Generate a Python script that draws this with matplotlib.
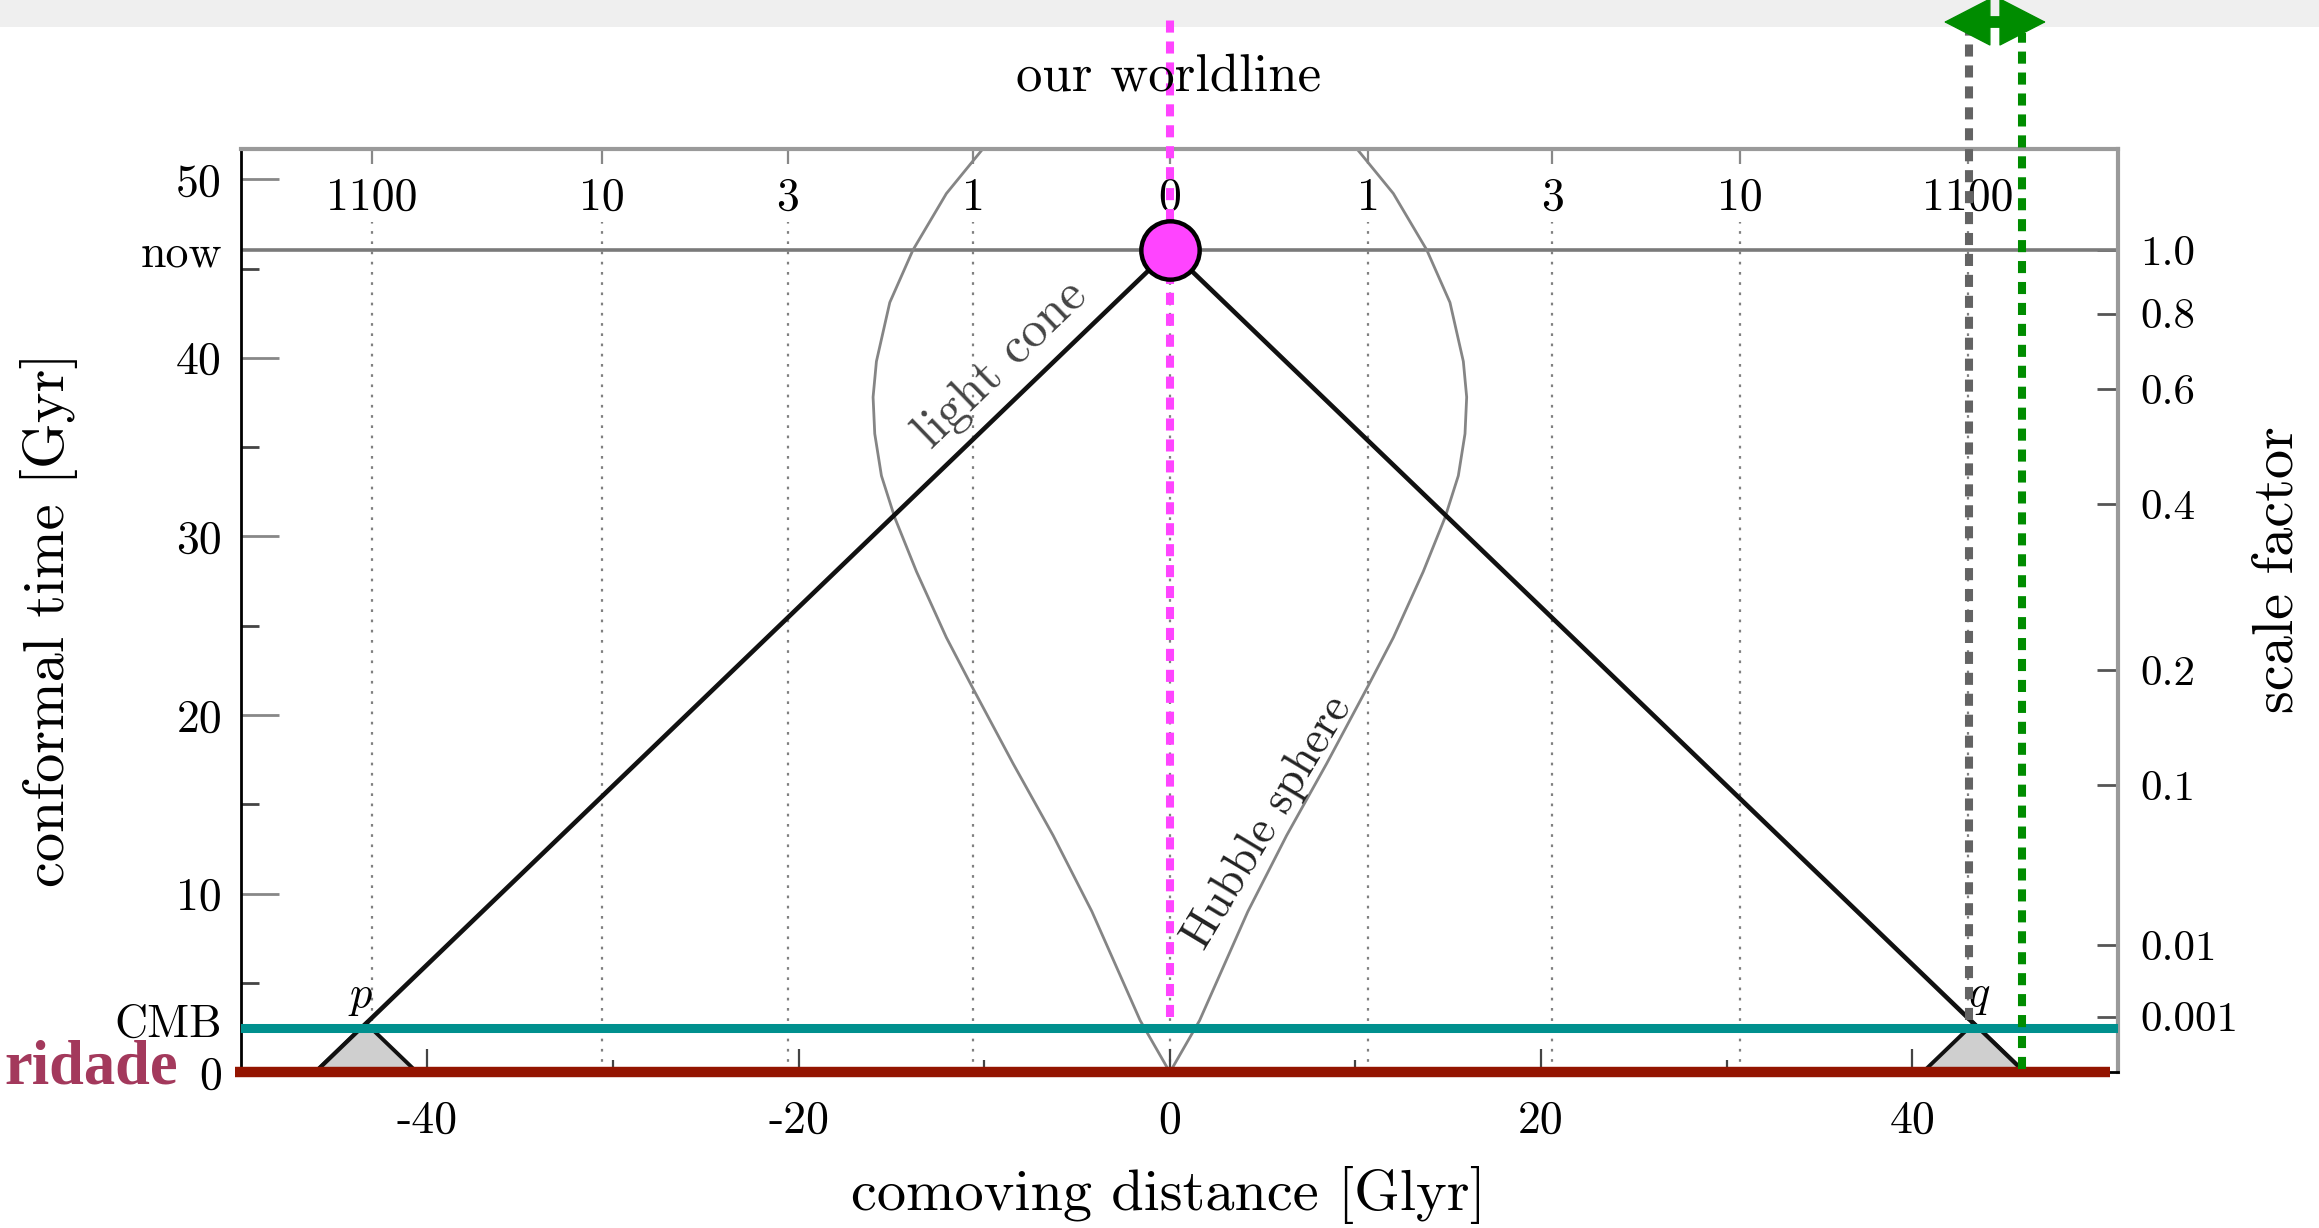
import matplotlib
matplotlib.use('Agg')
import matplotlib.pyplot as plt
from matplotlib.patches import Polygon, Rectangle, FancyArrowPatch, ArrowStyle
from matplotlib.transforms import blended_transform_factory

plt.rcParams['font.family'] = ['cmr10', 'DejaVu Serif']
plt.rcParams['mathtext.fontset'] = 'cm'
plt.rcParams['axes.unicode_minus'] = False
plt.rcParams['axes.formatter.use_mathtext'] = True

# ---------------- data ----------------
t_now = 46.04            # conformal time today [Gyr]
t_cmb_line = 2.5         # CMB band
t_cmb_label = 2.9
t_max = 51.67

lightcone_x = [-46.04, 0.0, 46.04]
lightcone_t = [0.0, 46.04, 0.0]

p_triangle_x = [-46.04, -43.3, -40.56]
p_triangle_t = [0.0, 2.74, 0.0]
q_triangle_x = [40.56, 43.3, 46.04]
q_triangle_t = [0.0, 2.74, 0.0]

# Hubble sphere (right branch, mirrored for the left)
hubble_x = [0.0, 1.6, 4.2, 6.29, 8.45, 10.69, 12.04, 13.65, 14.82, 15.54, 15.9,
            15.99, 15.81, 15.09, 13.84, 12.04, 10.1]
hubble_t = [0.0, 2.9, 9.0, 13.26, 17.29, 21.65, 24.34, 28.03, 31.05, 33.4, 35.75,
            37.8, 39.8, 43.1, 46.04, 49.2, 51.67]

redshift_pos = [-43.0, -30.6, -20.6, -10.6, 0.0, 10.7, 20.6, 30.7, 43.0]
redshift_labels = ['1100', '10', '3', '1', '0', '1', '3', '10', '1100']

scale_factor_t = [46.04, 42.48, 38.26, 31.8, 22.53, 16.07, 7.1, 3.12]
scale_factor_labels = ['1.0', '0.8', '0.6', '0.4', '0.2', '0.1', '0.01', '0.001']

x_major = [-40, -20, 0, 20, 40]
x_major_labels = ['-40', '-20', '0', '20', '40']
x_minor = [-30, -10, 10, 30]
y_major = [0, 10, 20, 30, 40, 50]
y_major_labels = ['0', '10', '20', '30', '40', '50']
y_minor = [5, 15, 25, 35, 45]

x_worldline = 0.0
x_cmb_marker = 43.05
x_horizon_marker = 45.9
arrow_x = [41.55, 47.35]
shaft_x = [43.95, 44.98]

# ---------------- figure ----------------
W, H = 2319, 1228
fig = plt.figure(figsize=(W / 100, H / 100), dpi=100)
fig.patch.set_facecolor('white')
ax = fig.add_axes([240.5 / W, 1 - 1072.3 / H, (2118 - 240.5) / W, (1072.3 - 149.4) / H])
ax.set_xlim(-50.07, 51.08)
ax.set_ylim(0, t_max)

# top light-gray band
fig.add_artist(Rectangle((0, 1 - 27 / H), 1, 27 / H, transform=fig.transFigure,
                         facecolor='#efefef', edgecolor='none', zorder=-5))

# redshift dotted guide lines
ax.vlines(redshift_pos, 0, 47.6, colors='#808080', linestyles=(0, (1.2, 3.4)), lw=1.6, zorder=1)

# now line
ax.axhline(t_now, color='#7a7a7a', lw=2.6, zorder=2)

# Hubble sphere
ax.plot(hubble_x, hubble_t, color='#858585', lw=2.0, zorder=2, solid_joinstyle='round')
ax.plot([-v for v in hubble_x], hubble_t, color='#858585', lw=2.0, zorder=2,
        solid_joinstyle='round')

# light cone
ax.plot(lightcone_x, lightcone_t, color='#111111', lw=3.3, zorder=3, solid_capstyle='butt')

# triangles at p and q
for tx, tt in ((p_triangle_x, p_triangle_t), (q_triangle_x, q_triangle_t)):
    ax.add_patch(Polygon(list(zip(tx, tt)), closed=False, facecolor='#cfcfcf',
                         edgecolor='#111111', lw=2.8, zorder=3))

# CMB band and singularity line
ax.axhline(t_cmb_line, xmin=0.0, xmax=0.9985, color='#00908e', lw=6.5, zorder=5)
ax.plot([-50.37, 50.65], [0, 0], color='#931400', lw=7.5, zorder=5, clip_on=False,
        solid_capstyle='butt')

# vertical markers
ax.axvline(x_worldline, ymin=0.06, ymax=1.1489, color='#ff44ff', lw=5.8,
           linestyle=(0, (1.5, 1.1)), zorder=7, clip_on=False, dash_capstyle='butt')
ax.axvline(x_cmb_marker, ymin=0.057, ymax=1.126, color='#636363', lw=5.8,
           linestyle=(0, (1.5, 1.1)), zorder=7, clip_on=False, dash_capstyle='butt')
ax.axvline(x_horizon_marker, ymin=0.004, ymax=1.126, color='#008c00', lw=5.8,
           linestyle=(0, (1.5, 1.1)), zorder=7, clip_on=False, dash_capstyle='butt')

# our position
ax.plot([x_worldline], [t_now], 'o', ms=42, mfc='#ff44ff', mec='black', mew=3.2,
        zorder=10, clip_on=False)

# green double arrow above the plot
trans = blended_transform_factory(ax.transData, fig.transFigure)
ya = 1 - 22 / H
arr = FancyArrowPatch((arrow_x[0], ya), (arrow_x[1], ya), transform=trans,
                      arrowstyle=ArrowStyle('<|-|>', head_length=32, head_width=16.5),
                      mutation_scale=1, color='#008c00', lw=1, clip_on=False, zorder=12)
ax.add_artist(arr)
ax.plot(shaft_x, [ya, ya], transform=trans, color='#008c00', lw=8.5, clip_on=False,
        zorder=12, solid_capstyle='butt')

# annotations in the plot
ax.text(-9.05, 39.6, 'light cone', rotation=44, rotation_mode='anchor', ha='center',
        va='center', fontsize=37, color='#444444', zorder=4)
ax.text(5.29, 14.0, 'Hubble sphere', rotation=59, rotation_mode='anchor', ha='center',
        va='center', fontsize=33, color='#222222', zorder=4)
ax.text(-43.6, 4.15, '$p$', fontsize=32, ha='center', va='center', zorder=6)
ax.text(43.6, 4.2, '$q$', fontsize=32, ha='center', va='center', zorder=6)

fig.text(1169 / W, 1 - 77 / H, 'our worldline', ha='center', va='center', fontsize=38)
fig.text(178 / W, 1 - 1083 / H, 'ridade', ha='right', va='baseline', fontsize=45,
         fontweight='bold', family=['Liberation Serif'], color='#a3395c')

# ---------------- axes styling ----------------
for s in ('left', 'bottom'):
    ax.spines[s].set_color('black')
    ax.spines[s].set_linewidth(2.0)
for s in ('top', 'right'):
    ax.spines[s].set_color('#9a9a9a')
    ax.spines[s].set_linewidth(3.0)

TL = 33
ax.set_xticks(x_major, x_major_labels)
ax.set_xticks(x_minor, minor=True)
ax.set_yticks(y_major, y_major_labels)
ax.set_yticks(y_minor, minor=True)
ax.tick_params(axis='x', which='major', direction='in', length=16.5, width=1.6,
               color='#444444', labelsize=TL, pad=20)
ax.tick_params(axis='x', which='minor', direction='in', length=8.6, width=1.6, color='#444444')
ax.tick_params(axis='y', which='major', direction='in', length=27, width=2.0,
               color='#888888', labelsize=TL, pad=13.3)
ax.tick_params(axis='y', which='minor', direction='in', length=13, width=2.0, color='#444444')
ax.tick_params(top=False, right=False, which='both')

# left extra labels (now, CMB)
secl = ax.secondary_yaxis('left')
secl.set_yticks([t_cmb_label, t_now], ['CMB', 'now'])
secl.tick_params(length=0, labelsize=TL, pad=13.3)
secl.spines['left'].set_visible(False)

# top redshift axis
sect = ax.secondary_xaxis('top')
sect.set_xticks(redshift_pos, redshift_labels)
sect.tick_params(direction='in', length=11, width=1.6, color='#888888', labelsize=TL, pad=-50)
sect.spines['top'].set_visible(False)

# right scale-factor axis
secr = ax.secondary_yaxis('right')
secr.set_yticks(scale_factor_t, scale_factor_labels)
secr.tick_params(direction='in', length=15, width=2.0, color='#555555', labelsize=31, pad=15.8)
secr.spines['right'].set_visible(False)
secr.set_ylabel('scale factor', fontsize=42)
secr.yaxis.set_label_coords(1.0852, 0.545, transform=ax.transAxes)
secr.yaxis.label.set_va('center')
secr.yaxis.label.set_rotation(90)

ax.set_xlabel('comoving distance [Glyr]', fontsize=42)
ax.xaxis.set_label_coords(0.4945, -0.133)
ax.xaxis.label.set_va('center')
ax.set_ylabel('conformal time [Gyr]', fontsize=42)
ax.yaxis.set_label_coords(-0.102, 0.49)
ax.yaxis.label.set_va('center')

fig.savefig('out.png', dpi=100)
